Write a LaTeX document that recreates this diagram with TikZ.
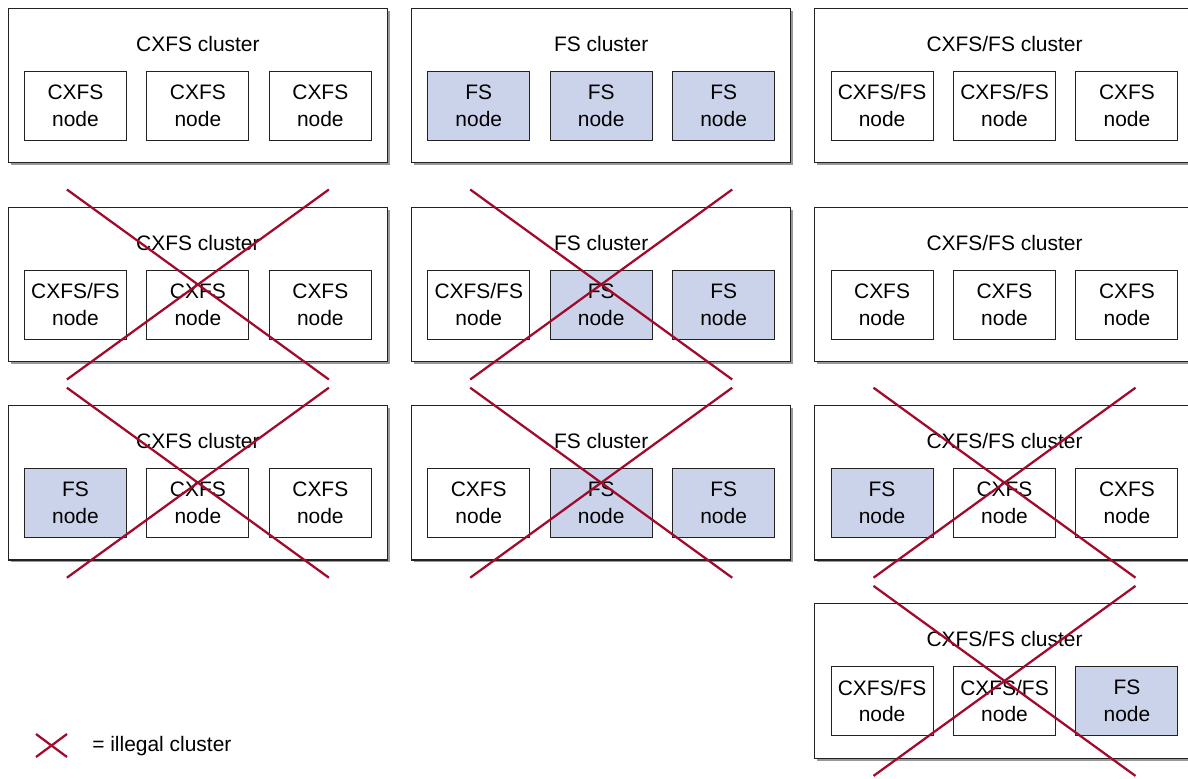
\documentclass[tikz,border=0pt]{standalone}
\usepackage{fontspec}
\setmainfont{Liberation Sans}
\definecolor{FScol}{HTML}{CBD3EA}
\definecolor{Xcol}{HTML}{A3092C}
\definecolor{Linecol}{HTML}{222222}
\usetikzlibrary{calc, shadows, positioning}
\tikzset{
    font=\fontsize{14.9}{18.9}\selectfont,
    cluster/.style={draw=Linecol, line width=0.85pt, fill=white, minimum width=9.48cm, minimum height=3.86cm,
        drop shadow={shadow xshift=0.06cm, shadow yshift=-0.06cm, fill=black!40, opacity=1}},
    title/.style={inner sep=0pt},
    unit/.style={draw=Linecol, line width=0.7pt, fill=white, align=center, minimum width=2.55cm, minimum height=1.725cm, inner sep=0pt},
    cxfsnode/.style={unit, node contents={CXFS\\node}},
    fsnode/.style={unit, fill=FScol, node contents={FS\\node}},
    bothnode/.style={unit, node contents={CXFS/FS\\node}},
    illegal/.style={Xcol, line width=1.6pt}
}
% one cluster: name, centre, title, three node kinds
\newcommand{\fscluster}[6]{%
    \node[cluster] (#1) at (#2) {};
    \node[title] (#1t) at ([yshift=1.04cm]#1.center) {#3};
    \node (#1a) at ([xshift=-3.06cm, yshift=-0.5cm]#1.center) [#4];
    \node (#1b) at ([yshift=-0.5cm]#1.center) [#5];
    \node (#1c) at ([xshift=3.06cm, yshift=-0.5cm]#1.center) [#6];
}
% cross over a cluster
\newcommand{\crossout}[1]{%
    \draw[illegal] ([shift={(-131,-95)}]#1.center) -- ([shift={(131,95)}]#1.center);
    \draw[illegal] ([shift={(-131,95)}]#1.center) -- ([shift={(131,-95)}]#1.center);
}
\begin{document}
\begin{tikzpicture}[x=0.025cm, y=-0.025cm]
    \useasboundingbox (0,0) rectangle (1188,778);

    % Row 1
    \fscluster{c11}{197.9,85.5}{CXFS cluster}{cxfsnode}{cxfsnode}{cxfsnode}
    \fscluster{c12}{601.2,85.5}{FS cluster}{fsnode}{fsnode}{fsnode}
    \fscluster{c13}{1004.5,85.5}{CXFS/FS cluster}{bothnode}{bothnode}{cxfsnode}

    % Row 2
    \fscluster{c21}{197.9,284.5}{CXFS cluster}{bothnode}{cxfsnode}{cxfsnode}
    \fscluster{c22}{601.2,284.5}{FS cluster}{bothnode}{fsnode}{fsnode}
    \fscluster{c23}{1004.5,284.5}{CXFS/FS cluster}{cxfsnode}{cxfsnode}{cxfsnode}

    % Row 3
    \fscluster{c31}{197.9,482.7}{CXFS cluster}{fsnode}{cxfsnode}{cxfsnode}
    \fscluster{c32}{601.2,482.7}{FS cluster}{cxfsnode}{fsnode}{fsnode}
    \fscluster{c33}{1004.5,482.7}{CXFS/FS cluster}{fsnode}{cxfsnode}{cxfsnode}

    % Row 4
    \fscluster{c43}{1004.5,680.9}{CXFS/FS cluster}{bothnode}{bothnode}{fsnode}

    % Illegal ones
    \crossout{c21}
    \crossout{c22}
    \crossout{c31}
    \crossout{c32}
    \crossout{c33}
    \crossout{c43}

    % Legend
    \node[title, anchor=west] (legend) at (92,746) {= illegal cluster};
    \draw[illegal] (36,734) -- (67,757);
    \draw[illegal] (36,757) -- (67,734);
\end{tikzpicture}
\end{document}
